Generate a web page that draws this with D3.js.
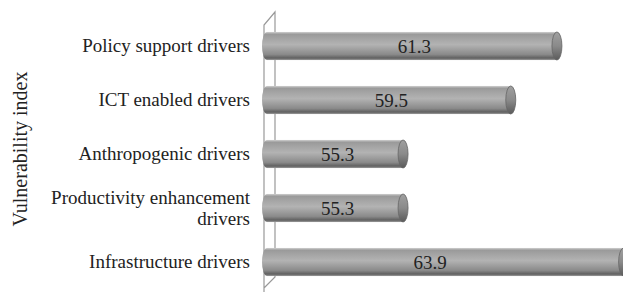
<!DOCTYPE html>
<html>
<head>
<meta charset="utf-8">
<script src="https://cdn.jsdelivr.net/npm/d3@7/dist/d3.min.js"></script>
<style>
  body { margin: 0; background: #fff; }
  svg text { font-family: 'Liberation Serif', 'DejaVu Serif', serif; fill: #222; }
</style>
</head>
<body>
<div id="chart"></div>
<script>
// data, top to bottom
var categories = ["Policy support drivers", "ICT enabled drivers", "Anthropogenic drivers",
                  ["Productivity enhancement", "drivers"], "Infrastructure drivers"];
var values = [61.3, 59.5, 55.3, 55.3, 63.9];
var axisTitle = "Vulnerability index";

const W = 623, H = 292;
var svg = d3.select("#chart").append("svg").attr("width", W).attr("height", H);

var x = d3.scaleLinear().domain([49.8, 64.5]).range([267, 644]);
var y = d3.scaleBand().domain(d3.range(values.length)).range([19, 289]).paddingInner(0.48).paddingOuter(0.24);

// bar gradient
var defs = svg.append("defs");
var g = defs.append("linearGradient").attr("id", "cyl").attr("x1", 0).attr("y1", 0).attr("x2", 0).attr("y2", 1);
[[0, "#d0d0d0"], [0.08, "#9a9a9a"], [0.45, "#b3b3b3"], [0.8, "#8a8a8a"], [0.93, "#606060"], [1, "#9c9c9c"]]
  .forEach(function (s) { g.append("stop").attr("offset", s[0]).attr("stop-color", s[1]); });
var gc = defs.append("linearGradient").attr("id", "cap").attr("x1", 0).attr("y1", 0).attr("x2", 0).attr("y2", 1);
[[0, "#a0a0a0"], [0.5, "#8a8a8a"], [1, "#5a5a5a"]]
  .forEach(function (s) { gc.append("stop").attr("offset", s[0]).attr("stop-color", s[1]); });

// 3d wall
svg.append("path")
  .attr("d", "M264,300 L264,25 L275,12 L275,277 L264,288")
  .attr("fill", "none").attr("stroke", "#999").attr("stroke-width", 1.2);

var bh = y.bandwidth();
var rx = 5;
var x0 = x(x.domain()[0]);
var bars = svg.selectAll(".bar").data(values).enter().append("g").attr("class", "bar");
bars.append("rect")
  .attr("x", x0)
  .attr("y", function (d, i) { return y(i); })
  .attr("width", function (d) { return x(d) - x0 - rx; })
  .attr("height", bh)
  .attr("fill", "url(#cyl)");
// left rounded end
bars.append("ellipse")
  .attr("cx", x0)
  .attr("cy", function (d, i) { return y(i) + bh / 2; })
  .attr("rx", rx).attr("ry", bh / 2)
  .attr("fill", "url(#cyl)");
// right end cap
bars.append("ellipse")
  .attr("cx", function (d) { return x(d) - rx; })
  .attr("cy", function (d, i) { return y(i) + bh / 2; })
  .attr("rx", rx).attr("ry", bh / 2)
  .attr("fill", "url(#cap)")
  .attr("stroke", "#666").attr("stroke-width", 0.8);

// value labels
bars.append("text")
  .attr("x", function (d) { return (x0 + Math.min(x(d), 593)) / 2; })
  .attr("y", function (d, i) { return y(i) + bh / 2 + 7; })
  .attr("text-anchor", "middle")
  .attr("font-size", 19)
  .text(function (d) { return d.toFixed(1); });

// category labels
svg.selectAll(".cat").data(categories).enter().append("text")
  .attr("class", "cat")
  .attr("text-anchor", "end")
  .attr("font-size", 19)
  .attr("y", function (d, i) { return y(i) + bh / 2 + 6; })
  .each(function (d) {
    var t = d3.select(this);
    if (Array.isArray(d)) {
      d.forEach(function (s, k) {
        t.append("tspan").attr("x", 250).attr("dy", k === 0 ? -10 : 21).text(s);
      });
    } else {
      t.append("tspan").attr("x", 250).text(d);
    }
  });

svg.append("text")
  .attr("transform", "translate(27,149) rotate(-90)")
  .attr("text-anchor", "middle")
  .attr("font-size", 20)
  .text(axisTitle);
</script>
</body>
</html>
